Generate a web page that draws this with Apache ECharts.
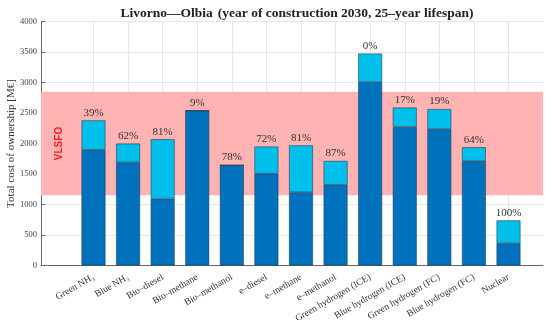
<!DOCTYPE html>
<html>
<head>
<meta charset="utf-8">
<script src="https://cdn.jsdelivr.net/npm/echarts@6/dist/echarts.min.js"></script>
<style>html,body{margin:0;padding:0;background:#fff;}#c{width:550px;height:320px;}</style>
</head>
<body>
<div id="c"></div>
<script>
var categories = ['Green NH\u2083','Blue NH\u2083','Bio\u2013diesel','Bio\u2013methane','Bio\u2013methanol','e\u2013diesel','e\u2013methane','e\u2013methanol','Green hydrogen (ICE)','Blue hydrogen (ICE)','Green hydrogen (FC)','Blue hydrogen (FC)','Nuclear'];
var baseCost = [1895, 1690, 1095, 2540, 1645, 1505, 1200, 1320, 3005, 2270, 2235, 1710, 365];
var totalCost = [2380, 2000, 2070, 2540, 1645, 1950, 1970, 1715, 3475, 2590, 2565, 1940, 740];
var percentLabels = ['39%','62%','81%','9%','78%','72%','81%','87%','0%','17%','19%','64%','100%'];
var vlsfoRange = [1150, 2850];
var yTicks = {min: 0, max: 4000, interval: 500};

var extra = totalCost.map(function (t, i) { return t - baseCost[i]; });
var serif = '"Liberation Serif", "DejaVu Serif", serif';
var chart = echarts.init(document.getElementById('c'), null, {renderer: 'canvas'});
var gTop = 21.5, gBottom = 54.5;
chart.setOption({
  animation: false,
  title: {
    text: '{b|Livorno\u2014Olbia} {n|(year of construction 2030, 25\u2013year lifespan)}',
    left: 292, top: 0, textAlign: 'center',
    textStyle: {
      rich: {
        b: {fontFamily: serif, fontSize: 13.5, fontWeight: 'bold', color: '#222'},
        n: {fontFamily: serif, fontSize: 13.5, color: '#222'}
      }
    }
  },
  grid: [
    {left: 41, right: 7, top: gTop, bottom: gBottom, outerBoundsMode: 'none', containLabel: false},
    {left: 93.5, right: 41.5, top: gTop, bottom: gBottom, outerBoundsMode: 'none', containLabel: false}
  ],
  xAxis: [
    {gridIndex: 0, type: 'value', min: 0, max: 1, axisLabel: {show: false}, axisTick: {show: false},
     splitLine: {show: false}, axisLine: {show: true, lineStyle: {color: '#666', width: 1}}},
    {gridIndex: 1, type: 'category', data: categories, boundaryGap: false,
     axisLine: {show: false}, axisTick: {show: false},
     splitLine: {show: true, lineStyle: {color: '#e6e6e6', width: 1}},
     axisLabel: {rotate: 30, fontFamily: serif, fontSize: 9.5, color: '#333', margin: 11, interval: 0}}
  ],
  yAxis: [
    {gridIndex: 0, type: 'value', min: yTicks.min, max: yTicks.max, interval: yTicks.interval,
     name: 'Total cost of ownership [M\u20ac]', nameLocation: 'middle', nameGap: 24, nameMoveOverlap: false,
     nameTextStyle: {fontFamily: serif, fontSize: 11, color: '#333'},
     axisLine: {show: true, lineStyle: {color: '#666', width: 1}},
     axisTick: {show: true, inside: true, length: 4, lineStyle: {color: '#666'}},
     axisLabel: {fontFamily: serif, fontSize: 8.5, color: '#444', margin: 4,
       formatter: function (v) { return String(v); }},
     splitLine: {show: true, lineStyle: {color: '#e6e6e6', width: 1}}},
    {gridIndex: 1, type: 'value', min: yTicks.min, max: yTicks.max, interval: yTicks.interval, show: false}
  ],
  series: [
    {type: 'line', xAxisIndex: 0, yAxisIndex: 0, data: [], silent: true,
     markArea: {silent: true, itemStyle: {color: '#ffb3b3'},
       label: {show: true, position: 'insideLeft', formatter: 'VLSFO', rotate: 90, distance: 18,
         align: 'center', verticalAlign: 'middle',
         color: '#ff1a1a', fontWeight: 'bold', fontFamily: 'Liberation Sans, Arial, sans-serif', fontSize: 10},
       data: [[{xAxis: 0, yAxis: vlsfoRange[0]}, {xAxis: 1, yAxis: vlsfoRange[1]}]]}},
    {type: 'bar', xAxisIndex: 1, yAxisIndex: 1, stack: 'tco', data: baseCost, barWidth: 24, clip: false,
     itemStyle: {color: '#0072bd', borderColor: 'rgba(25,55,85,0.8)', borderWidth: 0.7}},
    {type: 'bar', xAxisIndex: 1, yAxisIndex: 1, stack: 'tco', data: extra, barWidth: 24, clip: false,
     itemStyle: {color: '#00bfea', borderColor: 'rgba(25,55,85,0.8)', borderWidth: 0.7},
     label: {show: true, position: 'top', distance: 2, fontFamily: serif, fontSize: 11, color: '#333',
       formatter: function (p) { return percentLabels[p.dataIndex]; }}}
  ]
});
</script>
</body>
</html>
